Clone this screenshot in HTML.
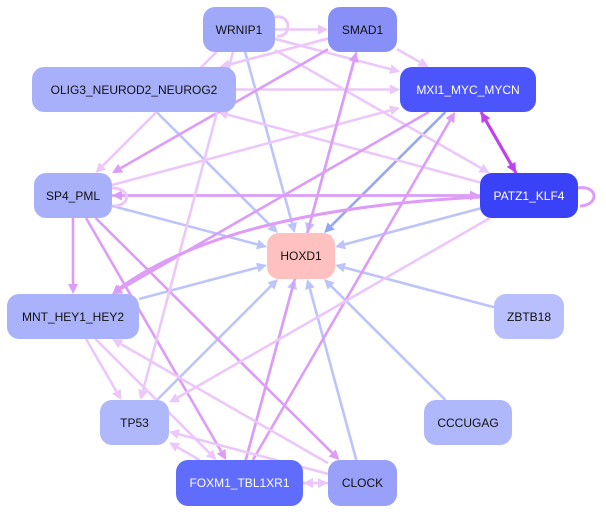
<!DOCTYPE html>
<html><head><meta charset="utf-8"><style>
body{margin:0;background:#fff;}
#c{position:relative;width:606px;height:512px;overflow:hidden;font-family:"Liberation Sans",sans-serif;}
svg{position:absolute;left:0;top:0;}
.n{position:absolute;border-radius:12px;display:flex;align-items:center;justify-content:center;font-size:12px;color:#111;box-sizing:border-box;}
</style></head><body><div id="c">
<svg id="s" width="606" height="512" viewBox="0 0 606 512"></svg>
<div class="n" style="left:203px;top:7px;width:72px;height:45px;background:#a0a8fa">WRNIP1</div>
<div class="n" style="left:328px;top:7px;width:69px;height:45px;background:#8890f8">SMAD1</div>
<div class="n" style="left:32px;top:67px;width:204px;height:45px;background:#a8b0fc">OLIG3_NEUROD2_NEUROG2</div>
<div class="n" style="left:400px;top:67px;width:136px;height:45px;background:#4b55fb;color:#fff">MXI1_MYC_MYCN</div>
<div class="n" style="left:34px;top:173px;width:78px;height:45px;background:#a8b0fa">SP4_PML</div>
<div class="n" style="left:480px;top:173px;width:98px;height:45px;background:#3a42f8;color:#fff">PATZ1_KLF4</div>
<div class="n" style="left:267px;top:233px;width:68px;height:46px;background:#ffc0c0">HOXD1</div>
<div class="n" style="left:7px;top:294px;width:132px;height:45px;background:#aab2fb">MNT_HEY1_HEY2</div>
<div class="n" style="left:494px;top:294px;width:70px;height:45px;background:#b8bffc">ZBTB18</div>
<div class="n" style="left:100px;top:400px;width:69px;height:45px;background:#b0b8fc">TP53</div>
<div class="n" style="left:424px;top:400px;width:88px;height:45px;background:#b0b8fc">CCCUGAG</div>
<div class="n" style="left:176px;top:460px;width:127px;height:46px;background:#5f6cfc;color:#fff">FOXM1_TBL1XR1</div>
<div class="n" style="left:328px;top:460px;width:69px;height:46px;background:#98a0fa">CLOCK</div>
</div>
<script>
var N={W:[203,7,72,45],S:[328,7,69,45],O:[32,67,204,45],M:[400,67,136,45],P:[34,173,78,45],K:[480,173,98,45],H:[267,233,68,46],N:[7,294,132,45],Z:[494,294,70,45],T:[100,400,69,45],C:[424,400,88,45],F:[176,460,127,46],L:[328,460,69,46]};
var B='#bcc4fa',B2='#98a6f6',P='#ecc8fa',Q='#dc9cf8',D='#c040f0';
var E=[['W','H',B],['S','H',B],['O','H',B],['M','H',B2],['P','H',B],['K','H',B],['N','H',B],['Z','H',B],['T','H',B],['C','H',B],['F','H',B],['L','H',B],
['W','S',P],['S','O',P],['W','M',P],['W','K',P],['S','M',P],['O','M',P],['K','O',P],['M','K',D],['K','M',D],['S','P',Q],['P','M',P],['M','N',Q],['P','K',Q],['K','P',Q],['P','N',Q],['P','F',Q],['P','L',Q],['W','T',P],['F','S',Q],['F','M',Q],['K','T',P],['N','T',P],['L','N',P],['N','F',P],['L','T',P],['F','T',P],['F','L',P],['L','F',P],['W','P',P]];
var s=document.getElementById('s'),h='';
function c(k){var b=N[k];return [b[0]+b[2]/2,b[1]+b[3]/2,b[2]/2,b[3]/2];}
function cl(a,b){var dx=a[0]-b[0],dy=a[1]-b[1];var t=Math.min(b[2]/Math.abs(dx||1e-6),b[3]/Math.abs(dy||1e-6));return [b[0]+dx*t,b[1]+dy*t];}
function arrow(p1,ux,uy,col){var ex=p1[0]-ux*10,ey=p1[1]-uy*10,px=-uy*5,py=ux*5;return '<polygon points="'+p1[0]+','+p1[1]+' '+(ex+px)+','+(ey+py)+' '+(ex-px)+','+(ey-py)+'" fill="'+col+'"/>';}
E.forEach(function(e){var a=c(e[0]),b=c(e[1]);var p0=cl(b,a),p1=cl(a,b);var dx=p1[0]-p0[0],dy=p1[1]-p0[1],L=Math.hypot(dx,dy),ux=dx/L,uy=dy/L;
var ex=p1[0]-ux*10,ey=p1[1]-uy*10;var w=e[2]==D?3:2.6;
h+='<line x1="'+p0[0]+'" y1="'+p0[1]+'" x2="'+ex+'" y2="'+ey+'" stroke="'+e[2]+'" stroke-width="'+w+'"/>';
h+=arrow(p1,ux,uy,e[2]);});
// curved PATZ1 -> MNT passing above HOXD1
h+='<path d="M480,197 C330,205 200,230 120,288" fill="none" stroke="'+Q+'" stroke-width="3"/>';
h+=arrow([112,295],-0.75,0.66,Q);
h+='<path d="M578,188 C598,185 600,205 580,206" fill="none" stroke="'+Q+'" stroke-width="3"/>';
h+='<path d="M112,188 C130,188 132,205 114,206" fill="none" stroke="'+P+'" stroke-width="3"/>';
h+='<path d="M275,17 C292,14 292,38 277,36" fill="none" stroke="'+P+'" stroke-width="3"/>';
s.innerHTML=h;
</script>
</body></html>
